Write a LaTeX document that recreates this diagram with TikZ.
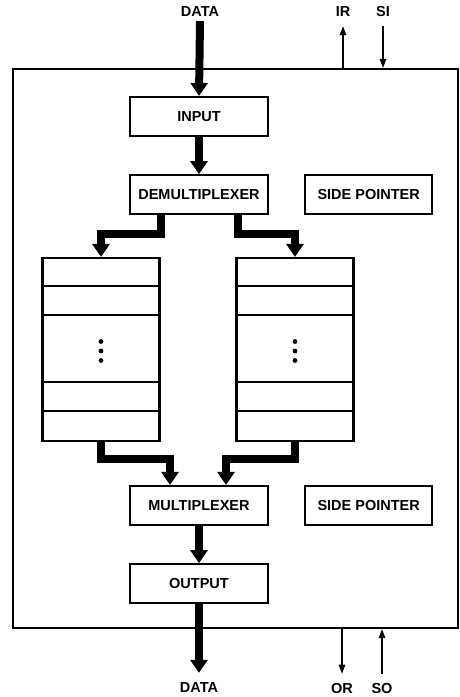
\documentclass[tikz,border=0pt]{standalone}
\usepackage{fontspec}
\setmainfont{Liberation Sans}
\usetikzlibrary{positioning,arrows.meta}

\begin{document}
\begin{tikzpicture}[x=1pt,y=-1pt,node distance=37pt,font=\bfseries\fontsize{14.5}{17}\selectfont,
        blk/.style={draw,line width=2.2pt,minimum width=138pt,minimum height=39pt,inner sep=0pt},
        reg/.style={draw,line width=2.2pt,minimum width=117pt,minimum height=183pt,inner sep=0pt},
        bus/.style={line width=8pt,-{Triangle[length=13pt,width=17pt]}},
        sig/.style={line width=1.3pt,-{Triangle[length=9pt,width=6.5pt]}},
        lbl/.style={inner sep=2pt}]
        \useasboundingbox (0,0) rectangle (460,697);
        \node[draw,line width=2.2pt,minimum width=445pt,minimum height=559pt] (chip) at (235.5,348.5) {};
        \node[blk] (input) at (199,116.5) {INPUT};
        \node[blk,below=of input] (demux) {DEMULTIPLEXER};
        \node[blk,minimum width=127pt,right=35pt of demux] (sptop) {SIDE POINTER};
        \node[reg] (regL) at (101,349.5) {};
        \node[reg] (regR) at (295,349.5) {};
        \node[blk] (mux) at (199,505.5) {MULTIPLEXER};
        \node[blk,minimum width=127pt,right=35pt of mux] (spbot) {SIDE POINTER};
        \node[blk,below=of mux] (output) {OUTPUT};
        % register rows
        \foreach \r in {regL,regR} {
            \foreach \d in {29,58,125,154}
                \draw[line width=1.6pt] ([yshift=-\d pt]\r.north west) -- ([yshift=-\d pt]\r.north east);
            \foreach \d in {-8,1.5,11}
                \fill ([yshift=-\d pt]\r.center) circle (2.4pt);
        }
        % labels
        \node[lbl] (din) at (200,12) {DATA};
        \node[lbl] (ir) at (343,12) {IR};
        \node[lbl] (si) at (383,12) {SI};
        \node[lbl] (dout) at (199,688) {DATA};
        \node[lbl] (or) at (342,688) {OR};
        \node[lbl] (so) at (382,688) {SO};
        % data path
        \draw[bus] ([yshift=-2pt]din.south) -- (input.north);
        \draw[bus] (input) -- (demux);
        \draw[bus] ([xshift=-38.5pt]demux.south) -- ++(0,19) -| (regL.north);
        \draw[bus] ([xshift=38.5pt]demux.south) -- ++(0,19) -| (regR.north);
        \draw[bus] (regL.south) -- ++(0,17) -| ([xshift=-29pt]mux.north);
        \draw[bus] (regR.south) -- ++(0,17) -| ([xshift=27pt]mux.north);
        \draw[bus] (mux) -- (output);
        \draw[bus] (output.south) -- ([yshift=8pt]dout.north);
        % control lines
        \draw[sig] (chip.north -| ir.south) -- ([yshift=-7pt]ir.south);
        \draw[sig] ([yshift=-7pt]si.south) -- (chip.north -| si.south);
        \draw[sig] (chip.south -| or.north) -- ([yshift=7pt]or.north);
        \draw[sig] ([yshift=7pt]so.north) -- (chip.south -| so.north);
    \end{tikzpicture}
\end{document}
